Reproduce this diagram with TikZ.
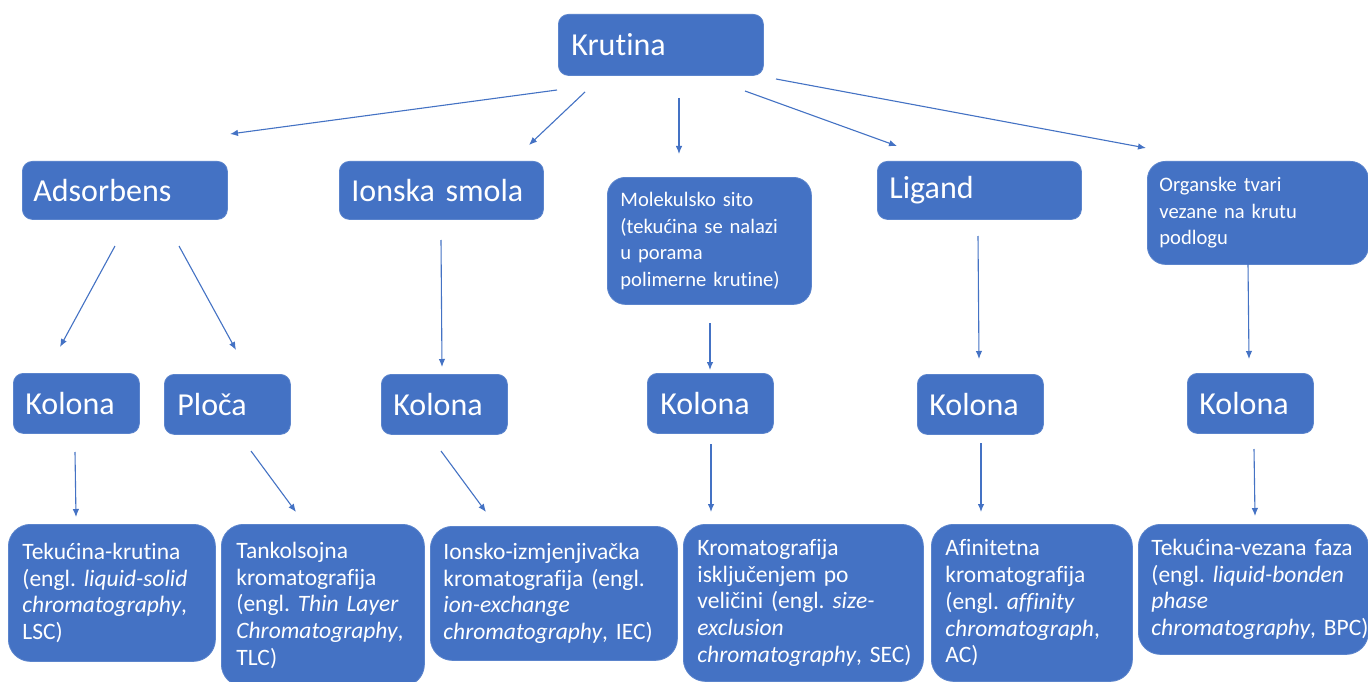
\documentclass[tikz,border=0pt]{standalone}
\usepackage{fontspec}
\setmainfont{Carlito}[Ligatures=NoCommon]
\usetikzlibrary{arrows.meta}
\definecolor{boxblue}{HTML}{4472C4}
\definecolor{boxedge}{HTML}{5B84CC}
\definecolor{arrowblue}{HTML}{4472C4}
\newcommand\lnb[1]{\mbox{#1}}
\tikzset{
  box/.style={fill=boxblue, draw=boxedge, line width=0.8pt, rounded corners=10pt,
    text=white, align=left, inner ysep=0pt, anchor=north west},
  bigtxt/.style={font=\fontsize{32}{38}\selectfont\frenchspacing},
  midtxt/.style={font=\fontsize{20.6}{26.5}\selectfont\frenchspacing},
  smalltxt/.style={font=\fontsize{23.5}{26.8}\selectfont\frenchspacing},
  conn/.style={draw=arrowblue, line width=1.1pt, -{Latex[length=8pt,width=6.5pt]}},
}
\begin{document}
\begin{tikzpicture}[x=1pt,y=-1pt]
\useasboundingbox (0,0) rectangle (1368,682);
\clip (0,0) rectangle (1368,682);
\fill[white] (0,0) rectangle (1368,682);

% level 0
\node[box,bigtxt,minimum height=61pt,text width=179pt,inner xsep=13pt] (kru) at (558,14) {Krutina};

% level 1
\node[box,bigtxt,minimum height=58pt,text width=183pt,inner xsep=11pt] (ads) at (22,161) {Adsorbens};
\node[box,bigtxt,minimum height=58pt,text width=180pt,inner xsep=12pt] (ion) at (339,161) {Ionska smola};
\node[box,midtxt,rounded corners=18pt,minimum height=127pt,text width=178pt,inner xsep=13pt] (mol) at (607,177) {\lnb{Molekulsko sito}\\\lnb{(tekućina se nalazi}\\\lnb{u porama}\\\lnb{polimerne krutine)}};
\node[box,bigtxt,minimum height=58pt,text width=180pt,inner xsep=12pt] (lig) at (877,161) {Ligand};
\node[box,midtxt,rounded corners=18pt,minimum height=103pt,text width=197pt,inner xsep=12pt] (org) at (1147,161) {\lnb{Organske tvari}\\\lnb{vezane na krutu}\\\lnb{podlogu}};

% level 2
\node[box,bigtxt,minimum height=60pt,text width=102pt,inner xsep=12pt] (k1) at (13,373) {Kolona};
\node[box,bigtxt,minimum height=60pt,text width=100pt,inner xsep=13pt] (plo) at (164,374) {Ploča};
\node[box,bigtxt,minimum height=60pt,text width=102pt,inner xsep=12pt] (k2) at (381,374) {Kolona};
\node[box,bigtxt,minimum height=60pt,text width=100pt,inner xsep=13pt] (k3) at (647,373) {Kolona};
\node[box,bigtxt,minimum height=60pt,text width=102pt,inner xsep=12pt] (k4) at (917,374) {Kolona};
\node[box,bigtxt,minimum height=60pt,text width=102pt,inner xsep=12pt] (k5) at (1187,373) {Kolona};

% level 3
\node[box,smalltxt,rounded corners=22pt,minimum height=137pt,text width=179pt,inner xsep=14pt] (lsc) at (8,524) {\lnb{Tekućina-krutina}\\\lnb{(engl. \textit{liquid-solid}}\\\lnb{\textit{chromatography},}\\\lnb{LSC)}};
\node[box,smalltxt,rounded corners=22pt,minimum height=162pt,text width=173pt,inner xsep=15pt] (tlc) at (221,524) {\lnb{Tankolsojna}\\\lnb{kromatografija}\\\lnb{(engl. \textit{Thin Layer}}\\\lnb{\textit{Chromatography},}\\\lnb{TLC)}};
\node[box,smalltxt,rounded corners=22pt,minimum height=134pt,text width=221pt,inner xsep=13pt] (iec) at (430,526) {\lnb{Ionsko-izmjenjivačka}\\\lnb{kromatografija (engl.}\\\lnb{\textit{ion-exchange}}\\\lnb{\textit{chromatography}, IEC)}};
\node[box,smalltxt,rounded corners=22pt,minimum height=157pt,text width=212pt,inner xsep=14pt] (sec) at (683,524) {\lnb{Kromatografija}\\\lnb{isključenjem po}\\\lnb{veličini (engl. \textit{size-}}\\\lnb{\textit{exclusion}}\\\lnb{\textit{chromatography}, SEC)}};
\node[box,smalltxt,rounded corners=22pt,minimum height=157pt,text width=173pt,inner xsep=14pt] (ac) at (931,524) {\lnb{Afinitetna}\\\lnb{kromatografija}\\\lnb{(engl. \textit{affinity}}\\\lnb{\textit{chromatograph},}\\\lnb{AC)}};
\node[box,smalltxt,rounded corners=22pt,minimum height=130pt,text width=204pt,inner xsep=13pt] (bpc) at (1138,524) {\lnb{Tekućina-vezana faza}\\\lnb{(engl. \textit{liquid-bonden}}\\\lnb{\textit{phase}}\\\lnb{\textit{chromatography}, BPC)}};

% connector end points
\coordinate (a1s) at (557,90);   \coordinate (a1e) at (230,134);
\coordinate (a2s) at (585,92);   \coordinate (a2e) at (529,145);
\coordinate (a3s) at (679,98);   \coordinate (a3e) at (679,154);
\coordinate (a4s) at (745,91);   \coordinate (a4e) at (897,146);
\coordinate (a5s) at (776,79);   \coordinate (a5e) at (1146,148);
\coordinate (b1s) at (115,246);  \coordinate (b1e) at (60,347);
\coordinate (b2s) at (179,246);  \coordinate (b2e) at (236,350);
\coordinate (b3s) at (441,240);  \coordinate (b3e) at (442,367);
\coordinate (b4s) at (710,323);  \coordinate (b4e) at (710,370);
\coordinate (b5s) at (978,236);  \coordinate (b5e) at (979,359);
\coordinate (b6s) at (1248,264); \coordinate (b6e) at (1249,359);
\coordinate (c1s) at (75,452);   \coordinate (c1e) at (76,517);
\coordinate (c2s) at (251,451);  \coordinate (c2e) at (296,512);
\coordinate (c3s) at (441,451);  \coordinate (c3e) at (486,512);
\coordinate (c4s) at (711,444);  \coordinate (c4e) at (711,512);
\coordinate (c5s) at (981,443);  \coordinate (c5e) at (981,512);
\coordinate (c6s) at (1254,449); \coordinate (c6e) at (1255,516);

\foreach \p in {a1,a2,a3,a4,a5,b1,b2,b3,b4,b5,b6,c1,c2,c3,c4,c5,c6}
  \draw[conn] (\p s) -- (\p e);
\end{tikzpicture}
\end{document}
